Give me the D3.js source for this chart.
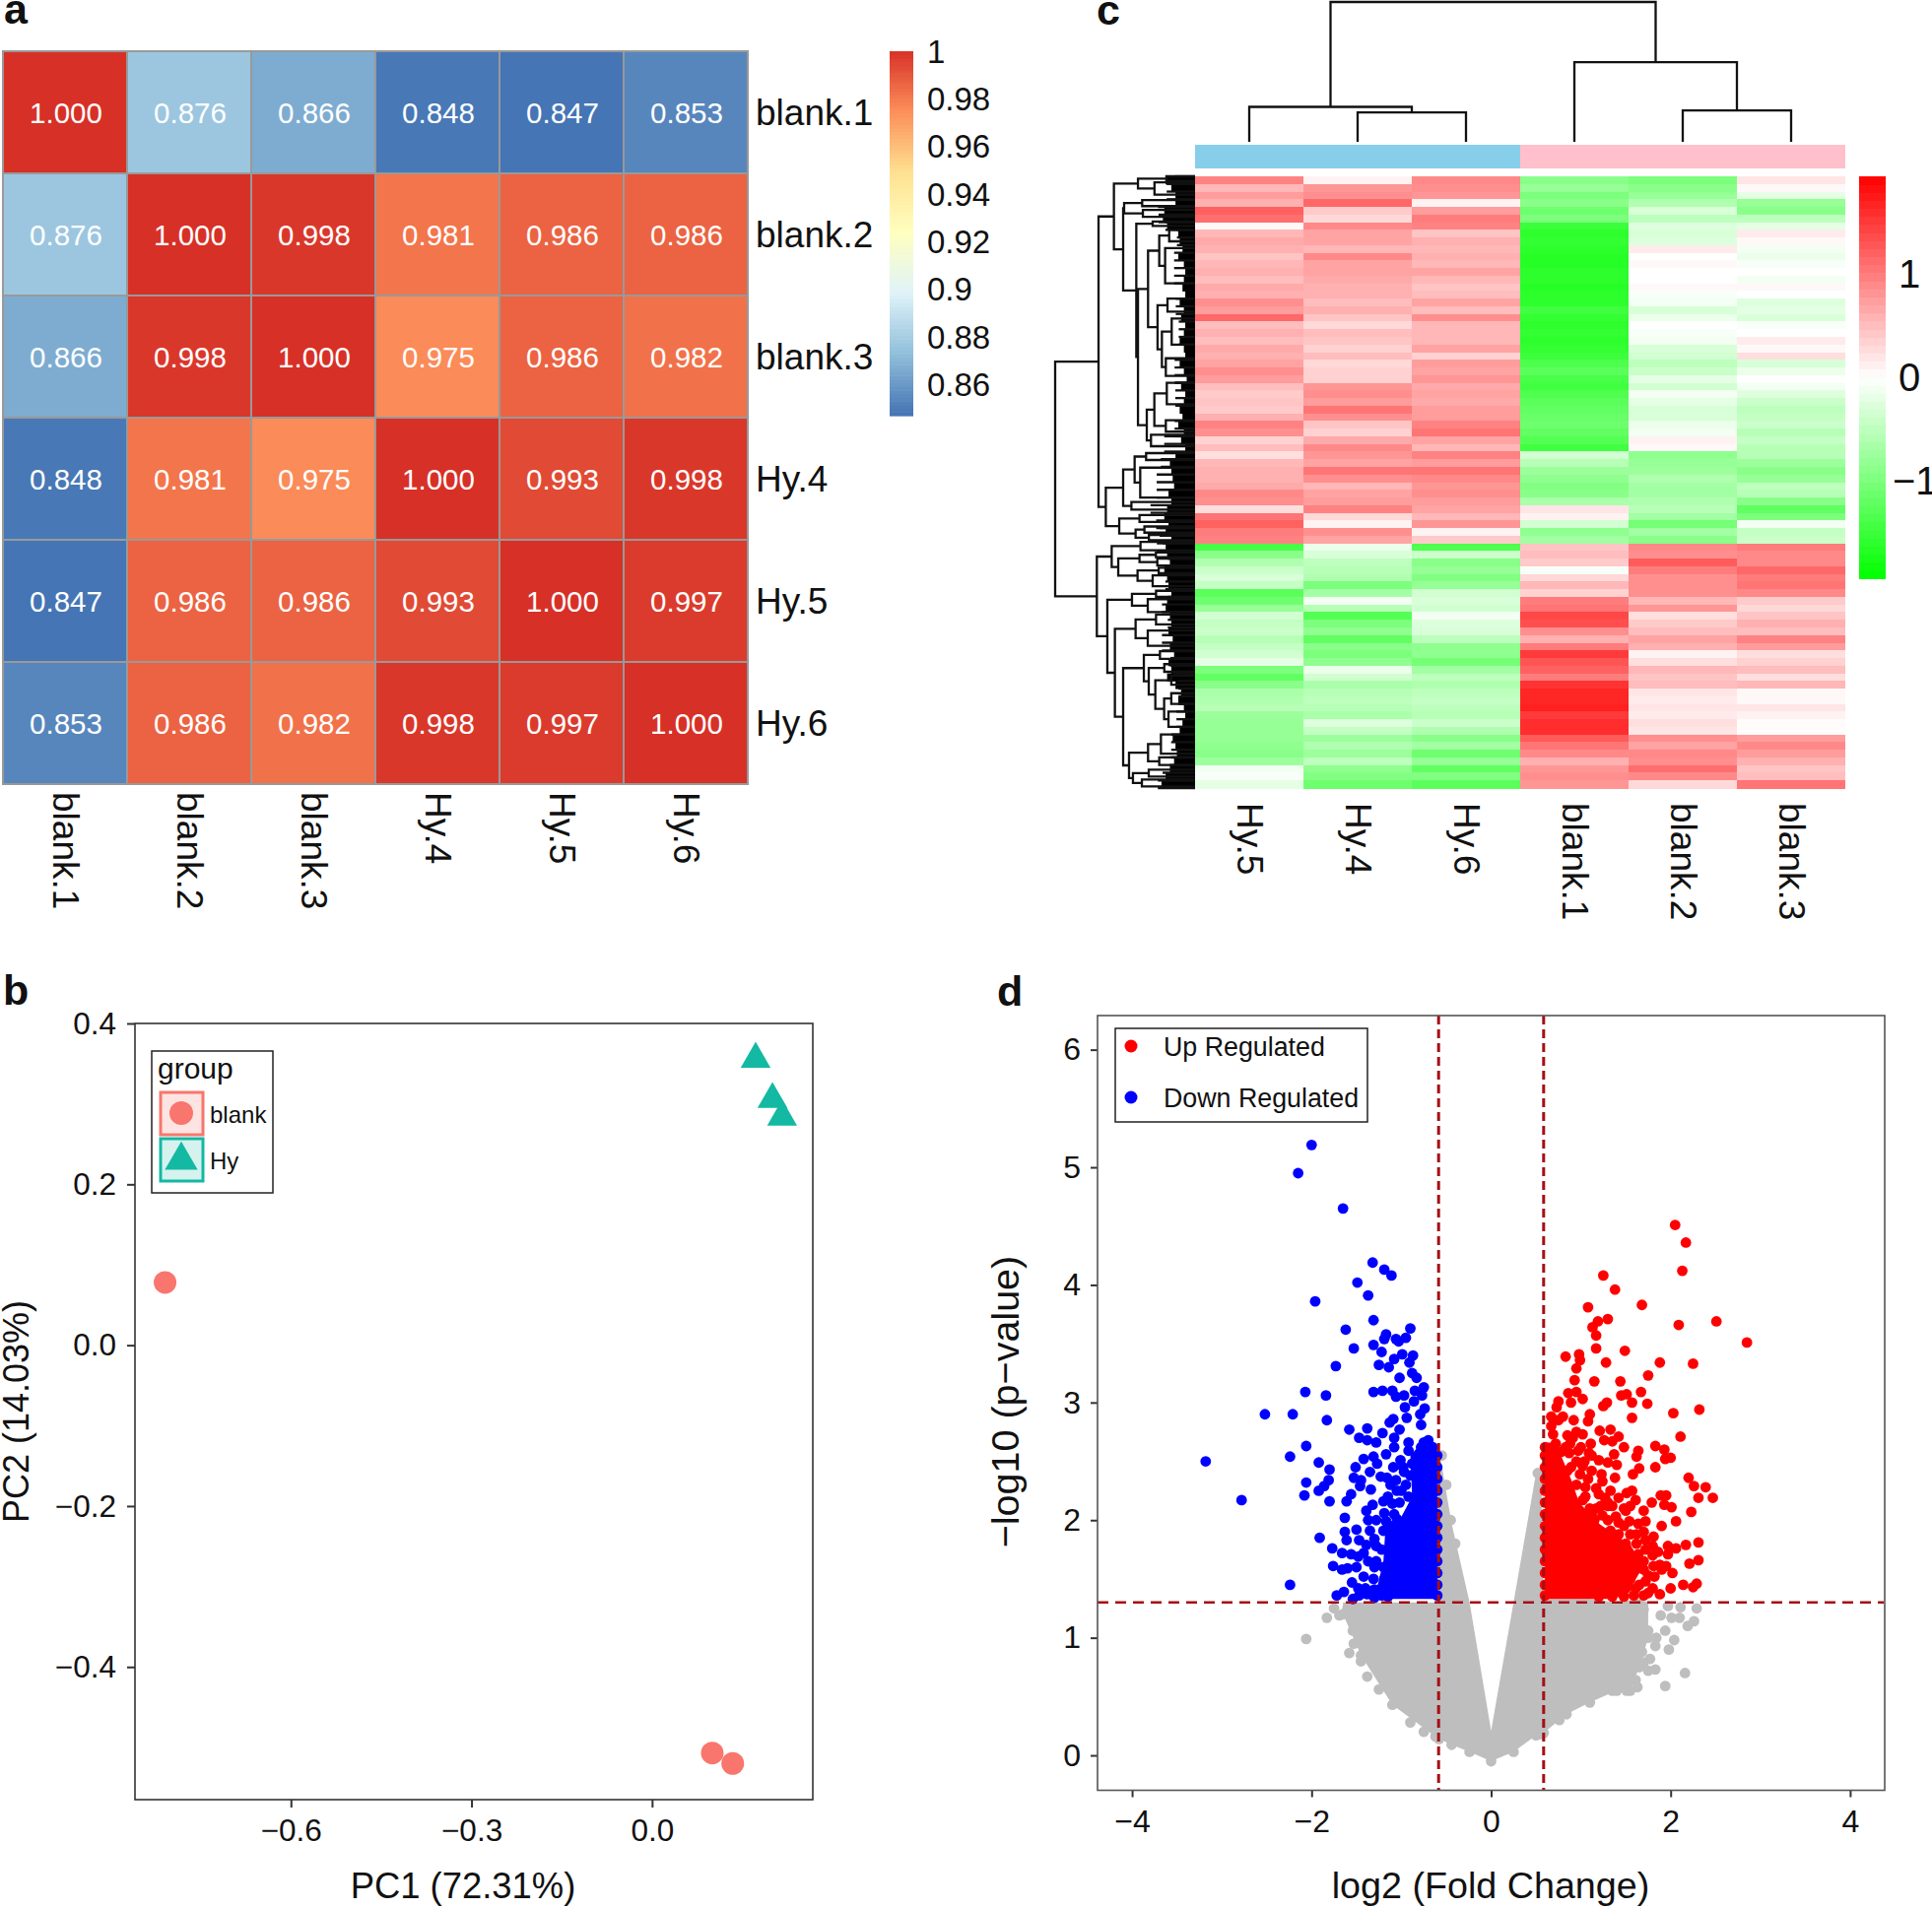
<!DOCTYPE html>
<html>
<head>
<meta charset="utf-8">
<script src="https://cdn.jsdelivr.net/npm/d3@7"></script>
<style>
  body { margin: 0; background: #fff; }
  text { font-family: "Liberation Sans", Arial, sans-serif; fill: #111; }
</style>
</head>
<body>
<script>
// panel a: correlation matrix
const corrNames = ["blank.1", "blank.2", "blank.3", "Hy.4", "Hy.5", "Hy.6"];
const corrValues = [
  [1.000, 0.876, 0.866, 0.848, 0.847, 0.853],
  [0.876, 1.000, 0.998, 0.981, 0.986, 0.986],
  [0.866, 0.998, 1.000, 0.975, 0.986, 0.982],
  [0.848, 0.981, 0.975, 1.000, 0.993, 0.998],
  [0.847, 0.986, 0.986, 0.993, 1.000, 0.997],
  [0.853, 0.986, 0.982, 0.998, 0.997, 1.000]
];
const corrTicks = [1, 0.98, 0.96, 0.94, 0.92, 0.9, 0.88, 0.86];
const corrPalette = ["#4575B4", "#91BFDB", "#E0F3F8", "#FFFFBF", "#FEE090", "#FC8D59", "#D73027"];

// panel b: PCA
const pcaBlank = [[-0.809, 0.078], [0.100, -0.507], [0.134, -0.520]];
const pcaHy = [[0.172, 0.357], [0.200, 0.307], [0.216, 0.285]];
const pcaXTicks = [-0.6, -0.3, 0.0];
const pcaYTicks = [0.4, 0.2, 0.0, -0.2, -0.4];

// panel c: clustered heatmap, rows top to bottom
const heatColumns = ["Hy.5", "Hy.4", "Hy.6", "blank.1", "blank.2", "blank.3"];
const heatGroups = ["Hy", "Hy", "Hy", "blank", "blank", "blank"];
const heatHy5 = [.95,.55,.75,.6,1.2,1.1,.05,.55,.65,.6,.45,.55,.6,.5,.65,.6,.85,.75,1.15,.5,.6,.5,.65,.6,.7,.85,.75,
  .5,.4,.45,.4,.6,.95,.85,.35,.5,.25,.55,.6,.6,.65,.9,.85,.25,1.05,1.2,1.0,.95,-1.4,-.9,-.6,-.4,-.3,-.45,
  -1.25,-1.1,-.8,-.35,-.45,-.4,-.55,-.45,-.35,-.2,-1.0,-1.2,-.9,-.65,-.6,-.55,-.75,-.8,-.8,-.8,-.85,-.9,-.75,-.1,-.05,-.2];
const heatHy4 = [.1,.8,.85,1.15,.4,.3,.9,.7,.7,.55,.9,.7,.7,.65,.6,.6,.5,.6,.45,.3,.5,.45,.35,.5,.3,.35,.35,
  .8,.85,.75,1.05,.85,.45,.35,.65,.9,.8,.7,1.05,.85,.55,.7,.75,.95,.3,.1,.85,.7,-.15,-.3,-.5,-.55,-.6,-1.0,
  -.7,-.1,-.55,-1.3,-1.0,-.85,-1.2,-.9,-1.0,-.85,-.15,-.35,-.65,-.55,-.5,-.55,-.65,-.25,-.45,-.75,-.6,-.75,-.5,-.85,-.95,-1.1];
const heatHy6 = [.9,.85,.8,.1,.75,1.0,.95,.45,.6,.55,.6,.55,.7,.55,.45,.5,.7,.5,.85,.55,.55,.55,.7,.35,.75,.7,.8,
  .65,.7,.65,.75,.75,.95,1.05,.7,.55,.95,.75,1.05,.9,.8,.85,.75,.7,.55,.8,.1,.4,-1.35,-.4,-.9,-.8,-.95,-.8,
  -.35,-.3,-.35,-.1,-.25,-.3,-.5,-.85,-.85,-1.05,-.7,-.5,-.6,-.5,-.45,-.5,-.55,-.4,-.6,-.9,-.7,-1.1,-.8,-1.2,-.95,-1.25];
const heatBlank1 = [-.9,-.8,-1.0,-.9,-1.1,-1.0,-1.5,-1.6,-1.55,-1.6,-1.65,-1.65,-1.6,-1.6,-1.65,-1.6,-1.6,-1.45,-1.55,-1.6,-1.55,-1.6,-1.55,-1.5,-1.35,-1.25,-1.4,
  -1.45,-1.35,-1.25,-1.2,-1.15,-1.1,-1.2,-1.3,-1.45,-.35,-.55,-.75,-.85,-.95,-.9,-.65,.2,.1,-.35,-.85,-.7,.45,.5,.4,-.05,.3,.55,
  .35,1.0,1.05,1.4,1.35,.85,.6,1.0,1.5,1.3,1.2,1.0,1.55,1.65,1.65,1.7,1.5,1.6,1.6,1.25,1.05,.9,.6,.8,.85,.8];
const heatBlank2 = [-1.0,-.9,-.8,-.6,-.3,-.5,-.25,-.3,-.25,.15,0,.05,0,0,.05,-.05,-.1,-.3,-.15,0,-.05,-.1,-.3,-.35,-.5,-.4,-.2,
  -.35,-.1,-.2,-.3,-.3,-.15,-.1,.1,.05,-.85,-.8,-.75,-.6,-.7,-.7,-.6,-.55,-.7,-1.05,-.7,-.9,.9,.85,1.25,1.0,.85,.85,
  .85,.55,.8,.25,.4,.5,.7,.6,.1,.25,.55,.45,.5,.2,.15,.2,.15,.25,.2,.85,.7,.9,.85,1.1,.9,.3];
const heatBlank3 = [.2,.05,-.2,-.8,-.9,-.5,-.2,.15,.05,-.1,-.15,-.05,0,-.1,.05,0,-.25,-.2,-.3,-.05,0,.15,.05,.25,-.3,-.15,0,
  -.1,-.25,-.4,-.5,-.45,-.4,-.55,-.45,-.55,-.55,-.75,-.9,-.8,-.5,-.55,-.9,-1.2,-1.0,-.1,-.45,-.4,1.0,.9,.9,1.15,1.0,1.05,
  .9,.4,.3,.45,.6,.5,.95,.75,.25,.35,.5,.25,.55,.05,.05,.2,.1,.03,.02,.75,.9,.75,.6,.45,.5,1.05];
const heatTicks = [1, 0, -1];
// column dendrogram: [height, child, child], a number is a column index
const colTree = [100, [25, 0, [21, 1, 2]], [57, 3, [22.5, 4, 5]]];
// row dendrogram: [height, child, child], [height, row, row] closes a bush of leaves
const rowTree = [100,
  [69,
    [58,
      [40.8, [20.5, 0, .6], [29, .8, 2.4]],
      [51.4,
        [50.7, [37.8, 3.1, 3.9], [37.3, 4.4, 5.3]],
        [42,
          [30.3, 5.9, 6.5],
          [40.8,
            [33.6,
              [25.6, [18.5, 7, 8.5], [21.4, 9.4, 14]],
              [26.8, [19.7, 16, 17.7], [23.7, [16.7, 18.6, 22], [20.9, 23.8, 26.1]]]],
            [34.5,
              [29.1, [20.2, 27, 29.8], [20.9, 31.9, 33.4]],
              [31.5, 33.8, 35.3]]]]]],
    [63.8,
      [51.4, [43.2, [35, 36.2, 37.1], [39.2, 38.1, 42]], [45.5, 42.6, 43.6]],
      [54.2, [39.7, 44.3, 45.2], [42.5, [36.2, 45.8, 46.6], [33, 46.9, 47.6]]]]],
  [70.2,
    [59.6,
      [39, 47.8, 48.9],
      [54.9,
        [39.7, [28, 49.2, 49.8], [27, 50, 50.9]],
        [41.1, [26, 51.2, 51.9], [30.3, 52.2, 53.6]]]],
    [62.7,
      [45.1, [27.9, 54.2, 55], [33.8, 55.3, 57]],
      [57.3,
        [42.5, [27.9, 57.3, 58.6], [33.8, 59.4, 61.4]],
        [51.4,
          [36.6,
            [25.1, 62.1, 63.1],
            [33.1, [22, 63.8, 64.8], [28.4, [17, 65.3, 66.5], [22.1, [17, 67.6, 69], [19, 70, 72]]]]],
          [47.2,
            [33.6, [24.4, 73, 75.5], [25.6, 76, 77]],
            [44.4, [33.1, 77.6, 78.5], [38, 78.9, 79.8]]]]]]]];
// left edge of the solid leaf block per row, same height units
const rowBlockEdge = [21,17,14,14,22,23,20,12,11,9,12,8,7,8,9,7,11,8,10,7,8,11,8,7,11,8,6,
  10,7,8,11,9,12,8,10,7,14,18,17,16,15,19,17,20,22,19,21,17,21,20,18,22,20,19,
  17,20,21,18,17,19,16,18,15,19,17,20,14,10,12,8,7,9,11,16,14,13,15,18,21,24];

// panel d: volcano, [log2 fold change, -log10 p]
const upPoints = [[2.05,4.51],[2.17,4.36],[2.13,4.12],[1.25,4.08],[1.38,3.96],[1.68,3.83],[1.08,3.81],[2.51,3.69],[1.30,3.71],[1.19,3.69],
  [1.13,3.64],[2.09,3.66],[1.17,3.57],[2.85,3.51],[1.17,3.46],[1.49,3.44],[.83,3.39],[.98,3.41],[.99,3.36],[1.88,3.34],[2.25,3.33],[1.28,3.34],
  [.95,3.29],[1.75,3.23],[.93,3.19],[1.15,3.18],[1.44,3.18],[1.67,3.09],[.86,3.08],[.95,3.09],[1.51,3.07],[1.45,3.06],[1.02,3.03],[1.57,3.0],
  [.89,3.0],[.75,3.01],[1.74,2.99],[1.29,3.0],[1.25,2.97],[2.32,2.94],[.73,2.96],[1.10,2.90],[2.03,2.91],[1.57,2.87],[.67,2.88],[.80,2.88],
  [.92,2.85],[1.08,2.84],[.67,2.80],[.69,2.73],[1.02,2.73],[1.21,2.76],[1.33,2.77],[2.11,2.71],[1.42,2.71],[1.26,2.68],[1.35,2.67],[1.11,2.65],
  [.91,2.70],[1.83,2.63],[1.48,2.62],[1.93,2.60],[1.64,2.59],[1.62,2.54],[.97,2.59],[1.09,2.57],[1.37,2.56],[.87,2.57],[1.94,2.52],[2.0,2.53],
  [1.2,2.51],[1.30,2.49],[.89,2.45],[1.02,2.46],[1.40,2.47],[1.83,2.45],[1.65,2.44],[1.58,2.39],[1.23,2.39],[.99,2.39],[1.38,2.36],[2.20,2.36],
  [2.39,2.28],[2.26,2.29],[1.08,2.35],[1.24,2.33],[1.17,2.27],[1.57,2.25],[1.51,2.23],[1.33,2.25],[2.47,2.19],[2.31,2.19],[1.89,2.21],[1.95,2.21],
  [1.42,2.19],[1.27,2.19],[1.61,2.17],[1.02,2.17],[1.79,2.15],[1.93,2.13],[2.01,2.11],[1.17,2.10],[1.70,2.08],[2.23,2.07],[1.50,2.08],[1.39,2.03],
  [1.24,2.04],[2.06,1.99],[1.72,1.99],[1.54,1.99],[1.64,1.97],[1.90,1.95],[.97,1.98],[1.33,1.91],[1.62,1.88],[1.81,1.86],[1.72,1.83],[2.17,1.79],
  [2.31,1.81],[1.97,1.78],[2.06,1.76],[1.86,1.73],[1.97,1.71],[1.64,1.71],[2.31,1.66],[2.21,1.63],[1.95,1.61],[1.81,1.61],[2.02,1.55],[1.90,1.58],
  [1.75,1.53],[1.72,1.48],[2.29,1.46],[2.14,1.45],[2.25,1.43],[2.0,1.42],[1.88,1.37],[1.75,1.38],[1.61,1.42],[1.42,1.39],[1.59,1.36],
  [1.12,2.05],[1.3,2.15],[1.48,1.95],[1.15,1.95],[1.35,1.82],[1.5,1.78],[1.42,1.66],[1.58,1.6],
  [.75,2.85],[.85,2.72],[.72,2.65],[.83,2.62],[.95,2.75],[.88,2.65],[.78,2.58],[1.0,2.62],[1.12,2.55],[1.04,2.5],[.95,2.5],[.85,2.42],[1.12,2.42],
  [.95,2.3],[1.05,2.28],[1.2,2.22],[1.05,2.2],[1.3,2.12],[1.1,2.1],[1.22,2.12],[1.35,2.12],[1.48,2.1],[1.55,2.12],[1.05,2.02],[1.15,2.0],[1.3,2.0],
  [1.42,1.98],[1.12,1.9],[1.25,1.88],[1.42,1.88],[1.55,1.88],[1.7,1.9],[1.5,1.8],[1.62,1.8],[1.72,1.75],[1.8,1.78],[1.42,1.75],[1.7,1.65],[1.8,1.7],
  [1.6,1.62],[1.7,1.58],[1.88,1.62],[1.55,1.5],[1.82,1.52],[1.65,1.45],[1.8,1.42],[1.5,1.42],[1.35,1.35],[1.2,1.35],[1.48,1.35],[1.7,1.36]];
const downPoints = [[-2.00,5.19],[-2.15,4.95],[-1.65,4.65],[-1.32,4.19],[-1.19,4.13],[-1.11,4.08],[-1.49,4.02],[-1.37,3.91],[-1.96,3.86],[-1.31,3.70],
  [-1.62,3.62],[-.90,3.63],[-1.17,3.58],[-.95,3.55],[-1.06,3.54],[-1.19,3.54],[-1.03,3.52],[-1.53,3.46],[-1.31,3.49],[-1.22,3.43],[-.99,3.41],[-.87,3.40],
  [-1.08,3.37],[-1.73,3.31],[-1.25,3.32],[-1.14,3.30],[-.91,3.34],[-.88,3.25],[-.83,3.21],[-1.02,3.21],[-2.07,3.09],[-1.84,3.06],[-1.31,3.09],[-1.21,3.10],
  [-1.10,3.10],[-.75,3.13],[-.85,3.10],[-1.06,3.05],[-.97,3.06],[-.77,3.06],[-.86,3.01],[-.96,2.96],[-2.52,2.90],[-2.21,2.90],[-.74,2.95],[-1.83,2.85],
  [-.94,2.87],[-1.09,2.86],[-.79,2.90],[-.78,2.81],[-1.13,2.83],[-1.58,2.77],[-1.38,2.78],[-1.02,2.77],[-1.47,2.70],[-1.38,2.68],[-1.28,2.66],[-1.21,2.74],
  [-1.08,2.70],[-.92,2.66],[-2.06,2.63],[-1.08,2.62],[-.92,2.59],[-2.24,2.54],[-3.18,2.50],[-1.17,2.56],[-1.42,2.52],[-1.31,2.54],[-1.92,2.49],[-1.01,2.51],
  [-1.51,2.45],[-1.27,2.48],[-1.09,2.45],[-1.80,2.43],[-1.35,2.41],[-.97,2.41],[-1.53,2.36],[-1.81,2.34],[-1.23,2.37],[-2.06,2.32],[-1.45,2.34],[-1.16,2.36],
  [-1.06,2.34],[-1.86,2.29],[-1.46,2.29],[-1.92,2.25],[-1.34,2.26],[-.95,2.30],[-2.08,2.21],[-1.56,2.22],[-1.05,2.25],[-1.80,2.16],[-2.78,2.17],[-1.61,2.16],
  [-1.20,2.16],[-1.32,2.13],[-1.10,2.14],[-1.39,2.08],[-1.19,2.06],[-1.63,2.02],[-1.37,2.00],[-.92,2.02],[-1.05,2.01],[-1.17,1.99],[-1.63,1.90],[-1.50,1.92],
  [-1.35,1.91],[-1.20,1.91],[-1.91,1.85],[-1.61,1.83],[-1.47,1.83],[-1.30,1.84],[-1.39,1.79],[-1.77,1.76],[-1.66,1.72],[-1.56,1.71],[-1.48,1.69],[-1.37,1.65],
  [-1.28,1.65],[-1.76,1.61],[-1.66,1.58],[-1.60,1.59],[-1.50,1.60],[-1.55,1.47],[-1.31,1.50],[-1.19,1.50],[-2.24,1.45],[-1.64,1.39],[-1.72,1.36],[-1.38,1.37],
  [-1.47,1.36],[-1.54,1.33],[-1.30,1.41],[-1.22,1.36],[-1.3,1.34],
  [-.98,2.45],[-.9,2.38],[-1.0,2.25],[-1.12,2.3],[-.92,2.2],[-1.02,2.15],[-1.15,2.2],[-1.08,2.05],[-1.28,2.0],[-1.12,1.95],[-.95,1.95],[-1.02,1.88],
  [-1.28,1.78],[-1.22,1.75],[-1.42,1.72],[-1.3,1.6],[-1.2,1.6],[-1.42,1.52],[-1.4,1.42],[-1.48,1.42],[-1.22,1.42],[-1.15,1.35],[-.8,2.55],[-.78,2.62],
  [-.83,2.5],[-.85,2.4],[-.88,2.48],[-.75,2.66],[-.7,2.68],[-.65,2.62]];
const notSigPoints = [[1.97,1.27],[2.11,1.26],[2.29,1.25],[1.89,1.19],[2.10,1.17],[2.01,1.17],[2.26,1.14],[2.19,1.10],[1.94,1.06],[1.75,1.06],[1.84,1.0],
  [1.83,.93],[2.04,.98],[1.98,.90],[1.68,.88],[1.77,.82],[1.83,.73],[1.75,.72],[1.70,.79],[1.61,.64],[2.16,.70],[1.94,.59],[1.63,.58],[1.51,.55],[1.70,1.24],
  [1.61,1.1],[1.35,.55],[.76,.30],[-1.83,1.17],[-2.06,.99],[-1.54,1.06],[-1.53,.95],[-1.69,1.19],[-1.58,.87],[-1.52,1.1],[-1.45,.8],[-1.38,.67],[-1.25,.56],
  [-.9,.28],[-.75,.2],[-1.75,1.25],[-1.6,1.25],[.52,2.4],[.56,2.3],[-.55,2.55],[-.5,2.3],[-.45,2.0],[-.4,1.8]];
// dots that scallop the threshold side of the dense red and blue clouds
const upEdgeY = [1.36,1.45,1.55,1.65,1.75,1.85,1.95,2.05,2.15,2.25,2.35,2.45,2.55,2.62];
const downEdgeY = [1.36,1.45,1.55,1.65,1.75,1.85,1.95,2.05,2.15,2.25,2.35,2.45,2.55];
// envelopes of the solid parts of the clouds
const upCloudY = [1.33,1.42,1.61,1.79,1.97,2.15,2.33,2.51,2.62,2.66];
const upCloudRight = [1.35,1.55,1.7,1.55,1.2,.98,.9,.8,.74,.68];
const downCloudY = [1.33,1.65,1.9,2.0,2.2,2.55,2.65,2.69];
const downCloudLeft = [-1.3,-1.2,-1.18,-1.02,-.88,-.9,-.78,-.72];
const downCloudRight = [-.6,-.6,-.6,-.6,-.6,-.6,-.64,-.68];
const graySpanX = [-1.65,-1.45,-1.1,-.62,-.58,-.44,-.24,0,.25,.5,.56,.585,.84,1.1,1.4,1.55,1.65,1.75];
const graySpanLow = [1.2,.85,.43,.16,.14,.09,.03,-.05,.03,.17,.18,.19,.35,.45,.55,.55,.75,1.0];
const graySpanHigh = [1.3,1.3,1.3,1.3,2.6,1.97,1.3,.21,1.3,2.4,2.4,1.33,1.33,1.33,1.3,1.32,1.33,1.3];
const volcanoXTicks = [-4, -2, 0, 2, 4];
const volcanoYTicks = [0, 1, 2, 3, 4, 5, 6];

const svg = d3.select("body").append("svg").attr("width", 1961).attr("height", 1937);

function panelLetter(txt, x, y) {
  svg.append("text").attr("x", x).attr("y", y).attr("font-size", 43).attr("font-weight", "bold").text(txt);
}
panelLetter("a", 4, 24);
panelLetter("b", 3, 1020);
panelLetter("c", 1113, 25);
panelLetter("d", 1012, 1021);

// ---- panel a ----
const aX = d3.scaleBand().domain(d3.range(6)).range([3, 759]);
const aY = d3.scaleBand().domain(d3.range(6)).range([52, 796]);
const corrColor = d3.scaleLinear()
  .domain(corrPalette.map((c, i) => 0.847 + i * (1 - 0.847) / 6))
  .range(corrPalette);
const a = svg.append("g");
corrValues.forEach((row, i) => {
  a.selectAll(null).data(row).join("rect")
    .attr("x", (d, j) => aX(j))
    .attr("y", aY(i))
    .attr("width", aX.bandwidth())
    .attr("height", aY.bandwidth())
    .attr("fill", d => corrColor(d))
    .attr("stroke", "#999")
    .attr("stroke-width", 2);
  a.selectAll(null).data(row).join("text")
    .attr("x", (d, j) => aX(j) + aX.bandwidth() / 2 + 1)
    .attr("y", aY(i) + aY.bandwidth() / 2)
    .attr("text-anchor", "middle")
    .attr("dominant-baseline", "central")
    .attr("font-size", 29.5)
    .style("fill", "#fff")
    .text(d => d.toFixed(3));
});
a.selectAll(null).data(corrNames).join("text")
  .attr("x", 767)
  .attr("y", (d, i) => aY(i) + aY.bandwidth() / 2)
  .attr("dominant-baseline", "central")
  .attr("font-size", 37)
  .text(d => d);
a.selectAll(null).data(corrNames).join("text")
  .attr("transform", (d, i) => `translate(${aX(i) + aX.bandwidth() / 2},804) rotate(90)`)
  .attr("dominant-baseline", "central")
  .attr("font-size", 37)
  .text(d => d);
// colour key
const aKey = d3.scaleLinear().domain([0.847, 1]).range([422, 52]);
const aSteps = d3.range(0, 100).map(i => 0.847 + i * 0.153 / 100);
a.selectAll(null).data(aSteps).join("rect")
  .attr("x", 903).attr("width", 24)
  .attr("y", d => aKey(d + 0.00153))
  .attr("height", aKey(0.847) - aKey(0.84853) + 0.6)
  .attr("fill", d => corrColor(d));
a.selectAll(null).data(corrTicks).join("text")
  .attr("x", 941)
  .attr("y", d => aKey(d))
  .attr("dominant-baseline", "central")
  .attr("font-size", 33)
  .text(d => d);

// ---- panel b ----
const bX = d3.scaleLinear().domain([-0.859, 0.267]).range([137, 825]);
const bY = d3.scaleLinear().domain([-0.565, 0.4]).range([1827, 1039]);
const b = svg.append("g");
b.append("rect").attr("x", 137).attr("y", 1039).attr("width", 688).attr("height", 788)
  .attr("fill", "none").attr("stroke", "#333").attr("stroke-width", 1.6);
const bAxisX = b.append("g").attr("transform", "translate(0,1827)")
  .call(d3.axisBottom(bX).tickValues(pcaXTicks).tickFormat(d3.format(".1f")).tickSize(8).tickPadding(12));
const bAxisY = b.append("g").attr("transform", "translate(137,0)")
  .call(d3.axisLeft(bY).tickValues(pcaYTicks).tickFormat(d3.format(".1f")).tickSize(8).tickPadding(11));
[bAxisX, bAxisY].forEach(g => {
  g.select(".domain").remove();
  g.selectAll("text").attr("font-size", 31.5).style("font-family", "'Liberation Sans'");
  g.selectAll("line").attr("stroke", "#333").attr("stroke-width", 2);
});
b.selectAll(null).data(pcaBlank).join("circle")
  .attr("cx", d => bX(d[0])).attr("cy", d => bY(d[1])).attr("r", 11.5).attr("fill", "#F8766D");
b.selectAll(null).data(pcaHy).join("path")
  .attr("transform", d => `translate(${bX(d[0])},${bY(d[1]) + 1})`)
  .attr("d", d3.symbol(d3.symbolTriangle, 400)())
  .attr("fill", "#13B9A3");
b.append("text").attr("x", 470).attr("y", 1927).attr("text-anchor", "middle").attr("font-size", 36.4).text("PC1 (72.31%)");
b.append("text").attr("transform", "translate(29,1433) rotate(-90)").attr("text-anchor", "middle").attr("font-size", 36).text("PC2 (14.03%)");
// legend
b.append("rect").attr("x", 154).attr("y", 1067).attr("width", 123).attr("height", 144)
  .attr("fill", "#fff").attr("stroke", "#222").attr("stroke-width", 1.5);
b.append("text").attr("x", 160).attr("y", 1095).attr("font-size", 30).text("group");
b.append("rect").attr("x", 163).attr("y", 1109).attr("width", 43).attr("height", 43)
  .attr("fill", "#FDE4E2").attr("stroke", "#F8766D").attr("stroke-width", 3);
b.append("rect").attr("x", 163).attr("y", 1156).attr("width", 43).attr("height", 43)
  .attr("fill", "#D6F2EE").attr("stroke", "#13B9A3").attr("stroke-width", 3);
b.append("circle").attr("cx", 184).attr("cy", 1130).attr("r", 12).attr("fill", "#F8766D");
b.append("path").attr("transform", "translate(184,1178)")
  .attr("d", d3.symbol(d3.symbolTriangle, 480)()).attr("fill", "#13B9A3");
b.append("text").attr("x", 213).attr("y", 1140).attr("font-size", 24).text("blank");
b.append("text").attr("x", 213).attr("y", 1187).attr("font-size", 24).text("Hy");

// ---- panel c ----
const cX = d3.scaleBand().domain(d3.range(6)).range([1213, 1873]);
const heatRows = [heatHy5, heatHy4, heatHy6, heatBlank1, heatBlank2, heatBlank3];
const cY = d3.scaleBand().domain(d3.range(heatHy5.length)).range([179, 800]);
const heatColor = d3.scaleLinear().domain([-1.94, 0, 1.94]).range(["#00ff00", "#ffffff", "#ff0000"]);
const groupColor = d3.scaleOrdinal().domain(["Hy", "blank"]).range(["#87CEEB", "#FFC0CB"]);
const c = svg.append("g");
heatRows.forEach((col, j) => {
  c.selectAll(null).data(col).join("rect")
    .attr("x", cX(j))
    .attr("y", (d, i) => cY(i))
    .attr("width", cX.bandwidth())
    .attr("height", cY.bandwidth() + 0.5)
    .attr("fill", d => heatColor(d))
    .attr("shape-rendering", "crispEdges");
});
c.selectAll(null).data(heatGroups).join("rect")
  .attr("x", (d, j) => cX(j)).attr("y", 147)
  .attr("width", cX.bandwidth()).attr("height", 24)
  .attr("fill", d => groupColor(d));
c.selectAll(null).data(heatColumns).join("text")
  .attr("transform", (d, j) => `translate(${cX(j) + cX.bandwidth() / 2},815) rotate(90)`)
  .attr("dominant-baseline", "central")
  .attr("font-size", 37)
  .text(d => d);
// column dendrogram
const colH = d3.scaleLinear().domain([0, 100]).range([144, 2]);
const colDendro = c.append("g").attr("fill", "none").attr("stroke", "#111").attr("stroke-width", 2.3);
function drawColTree(node) {
  if (typeof node === "number") return { x: cX(node) + cX.bandwidth() / 2, h: 0 };
  const l = drawColTree(node[1]), r = drawColTree(node[2]);
  colDendro.append("path").attr("d", d3.line()([
    [l.x, colH(l.h)], [l.x, colH(node[0])], [r.x, colH(node[0])], [r.x, colH(r.h)]
  ]));
  return { x: (l.x + r.x) / 2, h: node[0] };
}
drawColTree(colTree);
// row dendrogram
const rowH = d3.scaleLinear().domain([0, 100]).range([1213, 1071]);
const rowPos = d3.scaleLinear().domain([0, heatHy5.length]).range([179, 800]);
const rowDendro = c.append("g").attr("fill", "none").attr("stroke", "#111").attr("stroke-width", 2.3);
rowDendro.selectAll(null).data(rowBlockEdge).join("rect")
  .attr("x", d => rowH(d))
  .attr("y", (d, i) => cY(i))
  .attr("width", d => 1213 - rowH(d))
  .attr("height", cY.bandwidth() + 0.5)
  .attr("fill", "#000").attr("stroke", "none");
function drawRowTree(node) {
  if (typeof node[1] === "number") {
    // a bush: bracket at its height with a comb of leaves running into the block
    const rows = d3.range(Math.ceil(node[1]), node[2] + 1);
    rowDendro.append("path").attr("d", d3.line()([
      [rowH(0), rowPos(node[1])], [rowH(node[0]), rowPos(node[1])],
      [rowH(node[0]), rowPos(node[2])], [rowH(0), rowPos(node[2])]
    ]));
    rowDendro.selectAll(null).data(rows).join("line")
      .attr("x1", rowH(node[0] * 0.7)).attr("x2", rowH(0))
      .attr("y1", d => rowPos(d)).attr("y2", d => rowPos(d));
    return { y: (node[1] + node[2]) / 2, h: node[0] };
  }
  const t = drawRowTree(node[1]), u = drawRowTree(node[2]);
  rowDendro.append("path").attr("d", d3.line()([
    [rowH(t.h), rowPos(t.y)], [rowH(node[0]), rowPos(t.y)],
    [rowH(node[0]), rowPos(u.y)], [rowH(u.h), rowPos(u.y)]
  ]));
  return { y: (t.y + u.y) / 2, h: node[0] };
}
drawRowTree(rowTree);
// colour key
const cKey = d3.scaleLinear().domain([-1.94, 1.94]).range([587, 179]);
const cSteps = d3.range(0, 50).map(i => -1.94 + (i + 0.5) * 3.88 / 50);
c.selectAll(null).data(cSteps).join("rect")
  .attr("x", 1887).attr("width", 27)
  .attr("y", d => cKey(d) - 408 / 100)
  .attr("height", 408 / 50 + 0.5)
  .attr("fill", d => heatColor(d))
  .attr("shape-rendering", "crispEdges");
c.selectAll(null).data(heatTicks).join("text")
  .attr("x", d => d < 0 ? 1921 : 1927)
  .attr("y", d => cKey(d))
  .attr("dominant-baseline", "central")
  .attr("font-size", 40)
  .text(d => d3.format("d")(d));

// ---- panel d ----
const dX = d3.scaleLinear().domain([-4.385, 4.385]).range([1114, 1913]);
const dY = d3.scaleLinear().domain([-0.297, 6.29]).range([1817.5, 1031]);
const d_ = svg.append("g");
const volcanoAxisX = d_.append("g").attr("transform", "translate(0,1817.5)")
  .call(d3.axisBottom(dX).tickValues(volcanoXTicks).tickFormat(d3.format("d")).tickSize(7).tickPadding(13));
const volcanoAxisY = d_.append("g").attr("transform", "translate(1114,0)")
  .call(d3.axisLeft(dY).tickValues(volcanoYTicks).tickFormat(d3.format("d")).tickSize(7).tickPadding(10));
[volcanoAxisX, volcanoAxisY].forEach(g => {
  g.select(".domain").remove();
  g.selectAll("text").attr("font-size", 32).style("font-family", "'Liberation Sans'");
  g.selectAll("line").attr("stroke", "#333").attr("stroke-width", 2);
});
d_.append("path").datum(graySpanX)
  .attr("fill", "#BEBEBE")
  .attr("d", d3.area().x(v => dX(v))
    .y0((v, i) => dY(graySpanLow[i]))
    .y1((v, i) => dY(graySpanHigh[i]))(graySpanX));
function dots(points, color) {
  d_.append("g").selectAll("circle").data(points).join("circle")
    .attr("cx", p => dX(p[0])).attr("cy", p => dY(p[1])).attr("r", 5.4).attr("fill", color);
}
dots(notSigPoints.concat(graySpanX.map((v, i) => [v, graySpanLow[i]])), "#BEBEBE");
d_.append("path").attr("fill", "#0000FF")
  .attr("d", d3.area().y(v => dY(v))
    .x0((v, i) => dX(downCloudLeft[i]))
    .x1((v, i) => dX(downCloudRight[i]))(downCloudY));
d_.append("path").attr("fill", "#FF0000")
  .attr("d", d3.area().y(v => dY(v))
    .x0(() => dX(0.6))
    .x1((v, i) => dX(upCloudRight[i]))(upCloudY));
dots(downPoints.concat(downEdgeY.map(v => [-0.6, v])), "#0000FF");
dots(upPoints.concat(upEdgeY.map(v => [0.6, v])), "#FF0000");
// thresholds
[-0.585, 0.585].forEach(v => {
  d_.append("line").attr("x1", dX(v)).attr("x2", dX(v)).attr("y1", 1031).attr("y2", 1817.5)
    .attr("stroke", "#A50F15").attr("stroke-width", 3).attr("stroke-dasharray", "9,5");
});
d_.append("line").attr("x1", 1114).attr("x2", 1912).attr("y1", dY(1.3)).attr("y2", dY(1.3))
  .attr("stroke", "#A50F15").attr("stroke-width", 2.4).attr("stroke-dasharray", "11,7");
d_.append("rect").attr("x", 1114).attr("y", 1031).attr("width", 799).attr("height", 786.5)
  .attr("fill", "none").attr("stroke", "#555").attr("stroke-width", 1.6);
// legend
d_.append("rect").attr("x", 1132).attr("y", 1044).attr("width", 256).attr("height", 95)
  .attr("fill", "#fff").attr("stroke", "#222").attr("stroke-width", 1.5);
d_.append("circle").attr("cx", 1148).attr("cy", 1062).attr("r", 6.5).attr("fill", "#FF0000");
d_.append("circle").attr("cx", 1148).attr("cy", 1114).attr("r", 6.5).attr("fill", "#0000FF");
d_.append("text").attr("x", 1181).attr("y", 1072).attr("font-size", 26.8).text("Up Regulated");
d_.append("text").attr("x", 1181).attr("y", 1124).attr("font-size", 26.8).text("Down Regulated");
d_.append("text").attr("x", 1513).attr("y", 1927).attr("text-anchor", "middle").attr("font-size", 37.7).text("log2 (Fold Change)");
d_.append("text").attr("transform", "translate(1034,1423) rotate(-90)").attr("text-anchor", "middle").attr("font-size", 39.5).text("\u2212log10 (p\u2212value)");
</script>
</body>
</html>
